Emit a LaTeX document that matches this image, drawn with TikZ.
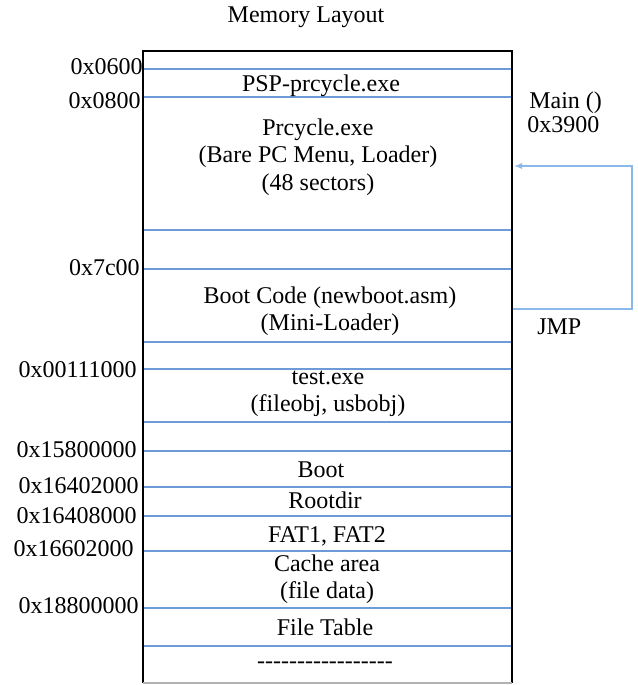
\documentclass[tikz,border=0pt]{standalone}
\usepackage{fontspec}
\setmainfont{Liberation Serif}[Ligatures=TeXOff]
\usepackage{tikz}
\usetikzlibrary{arrows.meta, positioning}
\definecolor{sepblue}{RGB}{110,155,215}
\definecolor{jmpblue}{RGB}{140,185,235}

\begin{document}
\begin{tikzpicture}[x=0.75pt, y=-0.75pt,
  every node/.style={font=\fontsize{18}{20.5}\selectfont, inner sep=0pt},
  addr/.style={anchor=east},
  part/.style={align=center},
  sepline/.style={draw=sepblue, line width=1.1pt},
  jmpline/.style={draw=jmpblue, line width=0.8pt}]
  \useasboundingbox (0,0) rectangle (637,685);
  % Title
  \node (title) at (306,17) {Memory Layout};
  % Outer box
  \draw[line width=1.5pt] (143,683) -- (143,51) -- (512,51) -- (512,683);
  \draw[gray!60, line width=0.8pt] (143,683) -- (512,683);
  % Separators
  \foreach \y in {69, 97, 230, 269, 342, 369, 422, 451, 487, 516, 551, 608, 646} {
    \draw[sepline] (144,\y) -- (511,\y);
  }
  % Addresses
  \foreach \x/\y/\addr in {143/67/0x0600, 141/101/0x0800, 140/268/0x7c00,
      137/370/0x00111000, 137/450/0x15800000, 139/486/0x16402000,
      137/516/0x16408000, 134/549/0x16602000, 139/606/0x18800000} {
    \node[addr] at (\x,\y) {\addr};
  }
  % Contents
  \node[part] (psp) at (321,86) {PSP-prcycle.exe};
  \node[part] (prcycle) at (318,157) {Prcycle.exe\\(Bare PC Menu, Loader)\\(48 sectors)};
  \node[part] (bootcode) at (330,311.5) {Boot Code (newboot.asm)\\(Mini-Loader)};
  \node[part] (test) at (328,393.5) {test.exe\\(fileobj, usbobj)};
  \node[part] (boot) at (321,470) {Boot};
  \node[part] (rootdir) at (325,500) {Rootdir};
  \node[part] (fat) at (327,536) {FAT1, FAT2};
  \node[part] (cache) at (327,579.5) {Cache area\\(file data)};
  \node[part] (filetable) at (325,627) {File Table};
  \node[part] (rest) at (325,665) {-----------------};
  % Jump back to Main ()
  \node[anchor=west] (main) at (529,103) {Main ()};
  \node[anchor=west] (entry) at (527,125) {0x3900};
  \node[anchor=west] (jmp) at (537,327) {JMP};
  \coordinate (jmpfrom) at (513,309);
  \coordinate (jmpto) at (514,166);
  \draw[jmpline, -{Latex[length=6pt,width=4.5pt]}] (jmpfrom) -- ++(119,0) |- (jmpto);
\end{tikzpicture}
\end{document}
